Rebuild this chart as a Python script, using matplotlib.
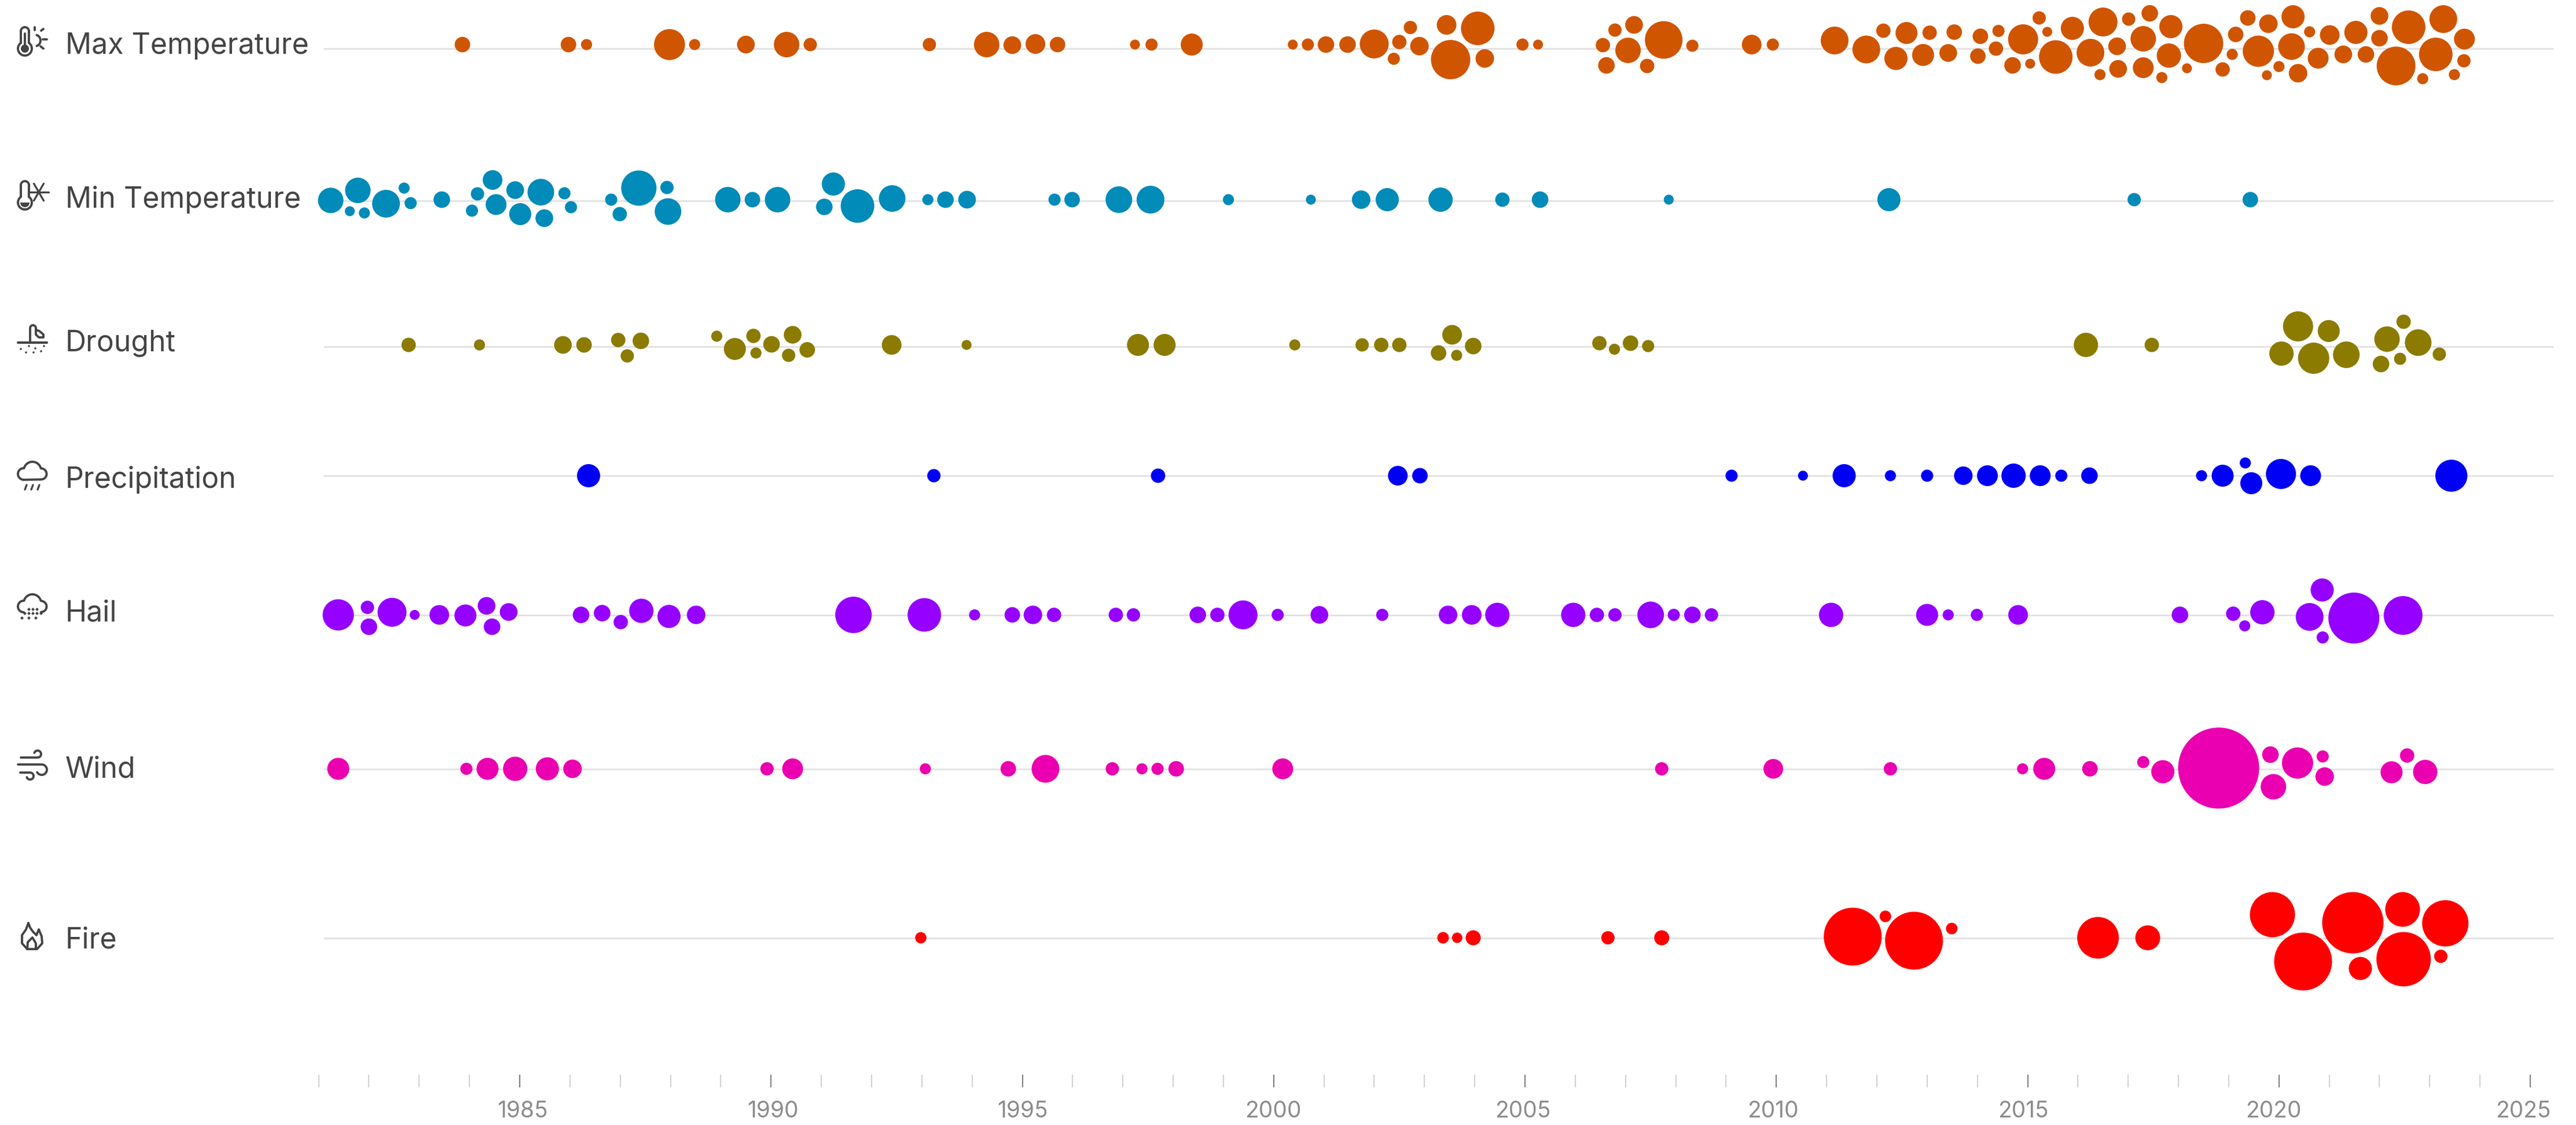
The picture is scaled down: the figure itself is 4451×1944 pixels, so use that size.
import numpy as np
import matplotlib
matplotlib.use('Agg')
import matplotlib.pyplot as plt
from matplotlib.patches import Circle, Polygon

plt.rcParams['font.family'] = ['Inter', 'DejaVu Sans']

# Data: year, offset from the row centre (px), bubble radius (px)
max_years = [1983.86, 1985.97, 1986.33, 1987.98, 1988.48, 1989.50, 1990.31, 1990.78, 1993.15, 1994.29,
             1994.80, 1995.26, 1995.70, 1997.24, 1997.57, 1998.37, 2000.38, 2000.68, 2001.04, 2001.47,
             2002.00, 2002.50, 2002.72, 2002.39, 2002.90, 2003.44, 2004.06, 2003.52, 2004.20, 2004.95,
             2005.26, 2006.55, 2006.79, 2007.17, 2007.05, 2007.76, 2006.62, 2007.43, 2008.33, 2009.51,
             2009.93, 2011.16, 2011.79, 2012.13, 2012.59, 2012.38, 2012.92, 2013.05, 2013.42, 2013.54,
             2014.06, 2014.42, 2014.37, 2014.01, 2014.91, 2014.70, 2015.05, 2015.23, 2015.39, 2015.56,
             2015.89, 2016.25, 2016.50, 2017.01, 2016.78, 2016.80, 2016.44, 2017.30, 2017.30, 2017.43,
             2017.85, 2017.81, 2017.67, 2018.17, 2018.50, 2019.14, 2019.07, 2018.88, 2019.38, 2019.59,
             2019.79, 2020.28, 2020.25, 2020.00, 2019.76, 2020.38, 2020.61, 2021.01, 2020.78, 2021.28,
             2021.53, 2021.73, 2022.00, 2022.00, 2022.58, 2022.33, 2022.86, 2023.12, 2023.27, 2023.69,
             2023.68, 2023.49]
max_offsets = [0, 0, 0, 0, 0, 0, 0, 0, 0, 0,
               1, -1, 0, 0, 0, 0, 0, 0, 0, 0,
               -1, -4.5, -29.5, 24.5, 2.7, -34, -28, 26, 24, 0,
               0, 1, -25, -34, 10, -8, 36, 37, 2, 0,
               0, -7, 8.5, -24, -20, 24, 18, -20.5, 14.5, -21.5,
               -14.3, -23.6, 7, 20, -9, 36, 33, -46, -22, 21.5,
               -28, 14, -39, -44, 3, 42, 52, -10, 40, -54,
               -31, 19, 57, 41, -2, -17.5, 17, 43, -46, 11.5,
               -36, -48, 3.5, 38, 53, 49.5, -22, -16.5, 23.6, 17,
               -21, 17, -49.5, -11, -30, 37, 59, 17, -44, -9.5,
               28, 52]
max_sizes = [13.4, 13.4, 9.6, 26.8, 9.6, 15.3, 22, 11.5, 11.5, 22,
             15.3, 17, 13.4, 8.6, 10.5, 19, 8.6, 10.5, 14.3, 14.3,
             25, 12.4, 11.5, 10.5, 16, 17, 29, 34, 16, 10.5,
             8.6, 12.4, 11.5, 15.3, 22, 32.5, 14.3, 12.4, 10.5, 17,
             10.5, 24, 24, 12.4, 19, 20, 19, 12.4, 15.3, 13.4,
             13.4, 10.5, 12.4, 13.4, 26, 14.3, 8.6, 11.5, 8.6, 29,
             20, 24, 25, 11.5, 15.3, 15.3, 9.6, 22, 18, 14.3,
             20, 21, 9.6, 8.6, 34, 13.4, 9.6, 12.4, 13.4, 27,
             16, 20, 23, 9.6, 8.6, 16, 9.6, 17, 18, 15.3,
             20, 14.3, 15.3, 14.3, 29, 33.5, 9.6, 29, 24, 18,
             11.5, 9.6]

min_years = [1981.24, 1981.78, 1981.62, 1981.91, 1982.34, 1982.70, 1982.83, 1983.45, 1984.16, 1984.46,
             1984.05, 1984.53, 1984.91, 1985.42, 1985.89, 1985.01, 1985.49, 1986.02, 1986.82, 1987.37,
             1987.93, 1986.99, 1987.95, 1989.14, 1989.63, 1990.13, 1991.24, 1991.06, 1991.72, 1992.41,
             1993.12, 1993.47, 1993.90, 1995.64, 1995.99, 1996.92, 1997.55, 1999.10, 2000.74, 2001.74,
             2002.26, 2003.32, 2004.55, 2005.30, 2007.86, 2012.24, 2017.12, 2019.43]
min_offsets = [1.3, -16, 20, 23, 7, -20, 6, 0, -10, -34,
               19, 8.5, -16.5, -13, -11, 25, 32, 13, 0, -20,
               -21, 25, 20.5, 0, 0, 0, -27, 12.5, 11, -2,
               0, 0, 0, 0, 0, 0, 0, 0, 0, 0,
               0, 0, 0, 0, 0, 0, 0, 0]
min_sizes = [22, 22, 8.6, 9.6, 24, 9.6, 10.5, 14.3, 11.5, 17,
             10.5, 18, 15.3, 23, 10.5, 19, 15.3, 10.5, 10.5, 30.5,
             11.5, 12.4, 23, 22, 13.4, 22, 20, 14.3, 29, 23,
             9.6, 14.3, 15.3, 10.5, 13.4, 23, 24, 9.6, 8.6, 16,
             20, 21, 12.4, 14.3, 8.6, 20, 11.5, 13.4]

drought_years = [1982.79, 1984.20, 1985.86, 1986.28, 1986.96, 1987.41, 1987.14, 1988.92, 1989.28, 1989.65,
                 1989.70, 1990.01, 1990.43, 1990.35, 1990.72, 1992.40, 1993.89, 1997.30, 1997.83, 2000.42,
                 2001.76, 2002.14, 2002.50, 2003.55, 2003.28, 2003.64, 2003.97, 2006.48, 2006.78, 2007.10,
                 2007.45, 2016.16, 2017.47, 2020.38, 2020.99, 2020.05, 2020.69, 2021.34, 2022.15, 2022.48,
                 2022.77, 2022.03, 2022.41, 2023.19]
drought_offsets = [0, 0, 0, 0, -8.5, -7, 19, -15, 7, -15.6,
                   14, -1, -17.5, 18, 8.5, 0, 0, 0, 0, 0,
                   0, 0, 0, -17.5, 14, 18, 2, -3, 7.5, -3,
                   2, 0, 0, -32, -24, 15, 23, 17, -10, -40,
                   -4, 33, 24, 16]
drought_sizes = [12.4, 9.6, 15.3, 13.4, 12.4, 14.3, 11.5, 9.6, 19, 12.4,
                 9.6, 14.3, 15.3, 11.5, 13.4, 17, 8.6, 19, 19, 9.6,
                 11.5, 12.4, 12.4, 17, 13.4, 9.6, 14.3, 12.4, 9.6, 13.4,
                 10.5, 21, 12.4, 26, 19, 21, 27, 23, 22, 12.4,
                 23, 14.3, 10.5, 11.5]

precip_years = [1986.37, 1993.24, 1997.70, 2002.47, 2002.91, 2009.11, 2010.53, 2011.35, 2012.27, 2013.00,
                2013.72, 2014.20, 2014.72, 2015.25, 2015.67, 2016.23, 2018.46, 2018.88, 2019.33, 2019.45,
                2020.04, 2020.63, 2023.43]
precip_offsets = [0, 0, 0, 0, 0, 0, 0, 0, 0, 0,
                  0, 0, 0, 0, 0, 0, 0, 0, -22, 13,
                  -3, 0, 0]
precip_sizes = [20, 11.5, 12.4, 17, 13.4, 10.5, 8.6, 20, 9.6, 10.5,
                16, 18, 21, 18, 10.5, 14.3, 9.6, 19, 9.6, 19,
                26, 18, 27.7]

hail_years = [1981.39, 1981.97, 1982.00, 1982.46, 1982.91, 1983.40, 1983.92, 1984.34, 1984.78, 1984.45,
              1986.22, 1986.64, 1987.01, 1987.42, 1987.97, 1988.51, 1991.64, 1993.05, 1994.05, 1994.80,
              1995.21, 1995.63, 1996.86, 1997.21, 1998.49, 1998.88, 1999.39, 2000.08, 2000.91, 2002.16,
              2003.47, 2003.94, 2004.45, 2005.96, 2006.43, 2006.79, 2007.50, 2007.96, 2008.33, 2008.71,
              2011.09, 2013.00, 2013.42, 2013.99, 2014.81, 2018.03, 2019.09, 2019.67, 2019.32, 2020.86,
              2020.61, 2021.49, 2020.87, 2022.47]
hail_offsets = [0, -13, 20.5, -4.5, 0, 0, 1, -15.6, -5, 20.5,
                0, -3, 12.5, -7, 2.7, 0, 0, 0, 0, 0,
                0, 0, 0, 0, 0, 0, 0, 0, 0, 0,
                0, 0, 0, 0, 0, 0, 0, 0, 0, 0,
                0, 0, 0, 0, 0, 0, -2, -4.5, 19, -43,
                3.5, 5.5, 39, 1]
hail_sizes = [27, 11.5, 14.3, 25, 8.6, 17, 19, 15.3, 15.3, 14.3,
              14.3, 14.3, 12.4, 21, 20, 16, 31.5, 29, 9.6, 13.4,
              16, 12.4, 12.4, 11.5, 14.3, 12.4, 25, 10.5, 15.3, 10.5,
              16, 17, 21, 21, 12.4, 11.5, 23, 10.5, 14.3, 11.5,
              21, 19, 9.6, 10.5, 17, 14.3, 12.4, 21, 9.6, 20,
              24, 44, 10.5, 33.5]

wind_years = [1981.39, 1983.94, 1984.36, 1984.91, 1985.55, 1986.05, 1989.92, 1990.43, 1993.07, 1994.72,
              1995.46, 1996.79, 1997.38, 1997.69, 1998.06, 2000.18, 2007.72, 2009.94, 2012.27, 2014.90,
              2015.33, 2016.24, 2017.30, 2017.69, 2018.80, 2019.83, 2019.89, 2020.37, 2020.87, 2020.91,
              2022.24, 2022.55, 2022.91]
wind_offsets = [0, 0, 0, 0, 0, 0, 0, 0, 0, 0,
                0, 0, 0, 0, 0, 0, 0, 0, 0, 0,
                0, 0, -11.6, 5, -1.3, -24.5, 31, -10, -21.4, 13.4,
                6, -23, 5.4]
wind_sizes = [19, 10.5, 19, 21, 20, 16, 11.5, 18, 9.6, 13.4,
              24, 11.5, 9.6, 10.5, 13.4, 18, 11.5, 17, 11.5, 9.6,
              19, 13.4, 10.5, 20, 70, 14.3, 22, 27, 10.5, 16,
              19, 12.4, 21]

fire_years = [1992.98, 2003.37, 2003.65, 2003.97, 2006.65, 2007.72, 2011.52, 2012.17, 2012.74, 2013.49,
              2016.40, 2017.39, 2019.87, 2020.48, 2021.47, 2022.46, 2023.31, 2022.48, 2021.62, 2023.22]
fire_offsets = [0, 0, 0, 0, 0, 0, -2, -37, 5, -16,
                0, 0, -40, 41, -26, -49, -25, 37, 53, 32]
fire_sizes = [9.8, 10, 9, 13, 11.5, 13, 50, 10, 50, 10,
              36, 21.5, 39, 50, 53, 30, 40, 47, 20, 11.5]

names = ['Max Temperature', 'Min Temperature', 'Drought', 'Precipitation', 'Hail', 'Wind', 'Fire']
colors = ['#D05500', '#008BB9', '#8B7B00', '#0000F5', '#9500FF', '#EA00B0', '#FF0000']
all_years = [max_years, min_years, drought_years, precip_years, hail_years, wind_years, fire_years]
all_offsets = [max_offsets, min_offsets, drought_offsets, precip_offsets, hail_offsets, wind_offsets, fire_offsets]
all_sizes = [max_sizes, min_sizes, drought_sizes, precip_sizes, hail_sizes, wind_sizes, fire_sizes]
year_ticks = list(range(1981, 2026))
year_labels = list(range(1985, 2026, 5))

# layout in pixels of the 4451x1944 picture
W, H = 4451, 1944
AXIS_Y = 1879
row_centres = [77, 345, 596, 822, 1062.5, 1328.5, 1620.5]
row_lines = [84, 347, 599, 822, 1063, 1329, 1621]
label_baselines = [93, 359, 607, 843, 1073, 1343, 1638]
PX_PER_YEAR = 86.85
x_left = 1985 - 898 / PX_PER_YEAR

fig = plt.figure(figsize=(W / 100, H / 100), dpi=100, facecolor='white')
ax = fig.add_axes([0, (H - AXIS_Y) / H, 1, AXIS_Y / H])
ax.set_xlim(x_left, x_left + W / PX_PER_YEAR)
ax.set_ylim(AXIS_Y, 0)
for side in ['top', 'left', 'right', 'bottom']:
    ax.spines[side].set_visible(False)

for i, name in enumerate(names):
    ax.plot([1981.1, 2025.46], [row_lines[i], row_lines[i]], color='#E3E3E3', lw=2.2, zorder=1,
            solid_capstyle='butt')
    y = np.array(all_offsets[i]) + row_centres[i]
    s = (1.44 * np.array(all_sizes[i])) ** 2
    ax.scatter(all_years[i], y, s=s, color=colors[i], linewidths=0, zorder=2, clip_on=False)
    ax.text(x_left + 113 / PX_PER_YEAR, label_baselines[i], name, fontsize=36, color='#444444', va='baseline',
            ha='left')

ax.set_yticks([])
ax.set_xticks(year_ticks, minor=True)
ax.set_xticks(year_labels)
ax.set_xticklabels([])
ax.tick_params(axis='x', which='major', direction='in', length=16, width=1.5, color='#808080')
ax.tick_params(axis='x', which='minor', direction='in', length=16, width=1.5, color='#D2D2D2')
# the labels sit a little off their ticks in the reference
for yr in year_labels:
    ax.text(yr + 0.058 - (yr - 1985) * 0.0049, 1920, str(yr), fontsize=28, color='#8C8C8C', ha='center',
            va='center', clip_on=False)

# icons, drawn in pixel coordinates
icons = fig.add_axes([0, 0, 1, 1], facecolor='none')
icons.set_xlim(0, W)
icons.set_ylim(H, 0)
icons.axis('off')
INK = '#444444'


def arc(cx, cy, r, a0, a1, n=30):
    a = np.radians(np.linspace(a0, a1, n))
    return np.column_stack([cx + r * np.cos(a), cy - r * np.sin(a)])


def stroke(pts, lw=2.8):
    pts = np.array(pts)
    icons.plot(pts[:, 0], pts[:, 1], color=INK, lw=lw, solid_capstyle='round', solid_joinstyle='round')


def thermometer(cx, top, bottom):
    stem = arc(cx, top + 7, 7, 0, 180)
    bulb = arc(cx, bottom - 12, 12, 125, 415)
    stroke(np.vstack([stem, bulb, stem[:1]]))


def cloud(x, y, closed=True):
    pts = np.vstack([arc(x + 10, y + 21, 10, 270, 100), arc(x + 25, y + 15, 15, 165, 15),
                     arc(x + 40, y + 21, 9.5, 80, -90)])
    stroke(np.vstack([pts, pts[:1]]) if closed else pts)


def dots(points, r=1.8):
    for p in points:
        icons.add_patch(Circle(p, r, color=INK, lw=0))


# max temperature
thermometer(43, 47, 96)
icons.add_patch(Circle((43, 84), 7, color=INK, lw=0))
stroke([(43, 58), (43, 80)])
stroke(arc(60, 70, 10, 70, -70))
for seg in [[(60, 47), (60, 52)], [(71, 53), (75, 50)], [(74, 68), (81, 68)], [(70, 80), (75, 84)]]:
    stroke(seg)

# min temperature
thermometer(43, 313, 362)
icons.add_patch(Polygon(arc(43, 350, 8, 180, 360), color=INK, lw=0))
for a in [0, 60, 120]:
    stroke(arc(67, 332, 17, a, a + 180, 2), 2.4)

# drought
stroke([(31, 592), (81, 592)], 3)
stroke(np.vstack([[(52, 590)], arc(57, 567, 5, 180, 0),
                  [(62, 578), (67, 583), (75, 583), (75, 578), (68, 572), (62, 570)]]))
dots([(36, 603), (50, 598), (61, 602), (76, 598), (45, 609), (58, 609), (71, 607)])

# precipitation
cloud(31, 798)
for x in [43, 54, 65]:
    stroke([(x, 846), (x + 3, 838)], 2.4)

# hail
icons_hail_x = [50, 57, 64, 43, 50, 57, 64, 71, 38, 50, 62]
icons_hail_y = [1053, 1053, 1053, 1060, 1060, 1060, 1060, 1060, 1068, 1068, 1068]
cloud(31, 1027, closed=False)
for x, y in zip(icons_hail_x, icons_hail_y):
    icons.add_patch(Polygon([(x - 3, y), (x, y - 3), (x + 3, y), (x, y + 3)], color=INK, lw=0))

# wind
stroke(np.vstack([[(36, 1309), (65, 1309)], arc(65, 1303, 6, -90, 160)]))
stroke(np.vstack([[(31, 1321), (72, 1321)], arc(72, 1330, 9, 90, -150)]))
stroke(np.vstack([[(35, 1335), (52, 1335)], arc(52, 1341, 6, 90, -160)]))

# fire
flame = np.array([(49, 1595), (45, 1606), (38, 1616), (38, 1630), (47, 1640), (64, 1640), (73, 1630), (72, 1618),
                  (67, 1606), (63, 1616), (57, 1610), (52, 1603), (49, 1595)])
stroke(flame)
stroke([(47, 1640), (48, 1628), (56, 1620), (62, 1630), (62, 1640)])

fig.savefig('out.png', dpi=100, facecolor='white')
